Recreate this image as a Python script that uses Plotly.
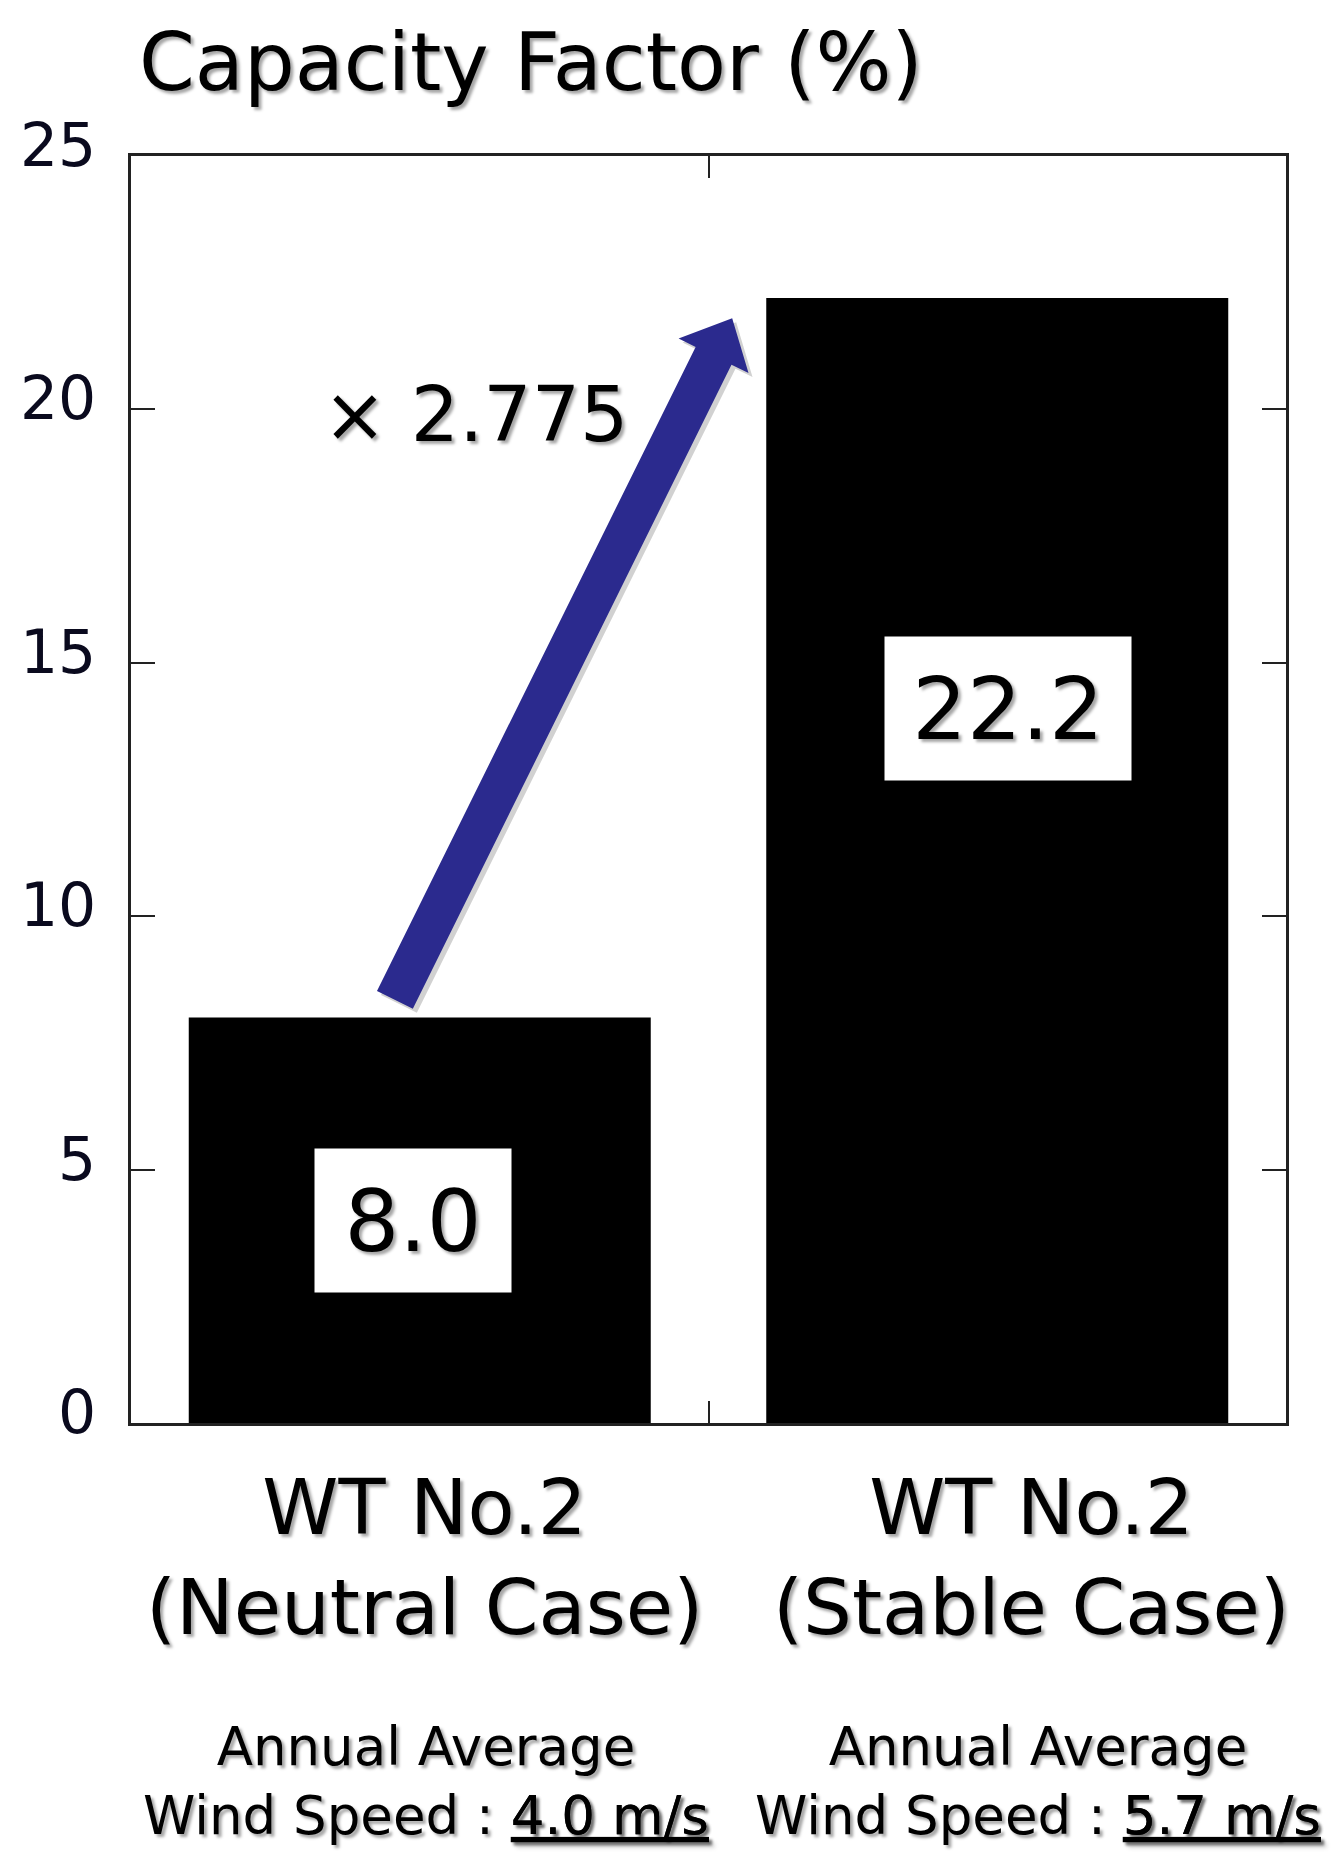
import math
import plotly.graph_objects as go

# ---- data ----
categories = ["WT No.2<br>(Neutral Case)", "WT No.2<br>(Stable Case)"]
capacity_factor = [8.0, 22.2]
wind_speed = [4.0, 5.7]
ratio_label = "× 2.775"
y_ticks = [0, 5, 10, 15, 20, 25]
title_text = "Capacity Factor (%)"

FONT = "DejaVu Sans, Verdana, sans-serif"
SHADOW = "3px 3px 3px rgba(0,0,0,0.35)"
AX = "#222222"
ARROW = "#2b2a8e"

x_idx = list(range(len(categories)))
X_RANGE = [-0.5, 1.5]
Y_RANGE = [0, 25]

# page layout (page pixel coords; the page body adds an 8px offset)
OFF = 8
W, H = 1328, 1856
PL, PR, PT, PB = 131, 1286, 156, 1423   # plot area in page pixels
L, T = PL - OFF, PT - OFF
R = OFF + W - PR
B = OFF + H - PB
plot_w, plot_h = PR - PL, PB - PT

def paper_y(px):
    return (PB - px) / plot_h

def d2p(x, y):
    px = PL + (x - X_RANGE[0]) / (X_RANGE[1] - X_RANGE[0]) * plot_w
    py = PB - (y - Y_RANGE[0]) / (Y_RANGE[1] - Y_RANGE[0]) * plot_h
    return px, py

def p2d(px, py):
    x = X_RANGE[0] + (px - PL) / plot_w * (X_RANGE[1] - X_RANGE[0])
    y = Y_RANGE[0] + (PB - py) / plot_h * (Y_RANGE[1] - Y_RANGE[0])
    return x, y

fig = go.Figure(
    go.Bar(
        x=x_idx,
        y=capacity_factor,
        width=0.8,
        marker=dict(color="black", line=dict(width=0)),
        hoverinfo="skip",
    )
)

annotations = []

# title
annotations.append(dict(
    text=title_text, xref="paper", yref="paper", x=0, y=paper_y(62),
    xanchor="left", yanchor="middle", xshift=6, showarrow=False,
    font=dict(family=FONT, size=80, color="black", shadow=SHADOW),
))

# value boxes
box_y = [capacity_factor[0] * 0.5, 14.1]
box_w = [186, 236]
box_dx = [-7, 11]
for i, v in enumerate(capacity_factor):
    annotations.append(dict(
        text=f"{v:.1f}", xref="x", yref="y", x=x_idx[i], y=box_y[i],
        xshift=box_dx[i], showarrow=False, bgcolor="white", borderpad=5,
        width=box_w[i], height=133, align="center", valign="middle",
        font=dict(family=FONT, size=86, color="black", shadow=SHADOW),
    ))

# arrow from first bar to second bar (polygon built in pixel space)
tail = d2p(-0.043, capacity_factor[0] + 0.35)
tip = d2p(0.541, capacity_factor[1] - 0.4)
dx, dy = tip[0] - tail[0], tip[1] - tail[1]
ln = math.hypot(dx, dy)
ux, uy = dx / ln, dy / ln
nx, ny = -uy, ux
shaft_hw, head_hw, head_len = 20, 39, 42
hb = (tip[0] - ux * head_len, tip[1] - uy * head_len)
pts_px = [
    (tail[0] + nx * shaft_hw, tail[1] + ny * shaft_hw),
    (hb[0] + nx * shaft_hw, hb[1] + ny * shaft_hw),
    (hb[0] + nx * head_hw, hb[1] + ny * head_hw),
    tip,
    (hb[0] - nx * head_hw, hb[1] - ny * head_hw),
    (hb[0] - nx * shaft_hw, hb[1] - ny * shaft_hw),
    (tail[0] - nx * shaft_hw, tail[1] - ny * shaft_hw),
]
pts = [p2d(*p) for p in pts_px]
path = "M " + " L ".join(f"{x:.5f},{y:.5f}" for x, y in pts) + " Z"
shadow_pts = [p2d(p[0] + 4, p[1] + 4) for p in pts_px]
shadow_path = "M " + " L ".join(f"{x:.5f},{y:.5f}" for x, y in shadow_pts) + " Z"

shapes = [
    dict(type="path", xref="x", yref="y", path=shadow_path,
         fillcolor="rgba(0,0,0,0.18)", line=dict(width=0), layer="above"),
    dict(type="path", xref="x", yref="y", path=path,
         fillcolor=ARROW, line=dict(width=0), layer="above"),
]

# ratio label
annotations.append(dict(
    text=ratio_label, xref="x", yref="y", x=0.096, y=19.9,
    showarrow=False, xanchor="center", yanchor="middle",
    font=dict(family=FONT, size=76, color="black", shadow=SHADOW),
))

# category labels and wind speed notes
cat_dx = [5, 34]
note_dx = [6, 41]
for i, c in enumerate(categories):
    annotations.append(dict(
        text=c, xref="x", yref="paper", x=x_idx[i], y=paper_y(1558),
        xshift=cat_dx[i], showarrow=False, xanchor="center", yanchor="middle",
        align="center",
        font=dict(family=FONT, size=77, color="black", shadow=SHADOW),
    ))
    annotations.append(dict(
        text=f"Annual Average<br>Wind Speed : <u>{wind_speed[i]:.1f} m/s</u>",
        xref="x", yref="paper", x=x_idx[i], y=paper_y(1781),
        xshift=note_dx[i], showarrow=False, xanchor="center", yanchor="middle",
        align="center",
        font=dict(family=FONT, size=53, color="black", shadow=SHADOW),
    ))

fig.update_layout(
    width=W, height=H,
    margin=dict(l=L, r=R, t=T, b=B, pad=0),
    paper_bgcolor="white", plot_bgcolor="white",
    showlegend=False,
    annotations=annotations,
    shapes=shapes,
    xaxis=dict(
        type="linear", range=X_RANGE, tickvals=[0.5], showticklabels=False,
        ticks="inside", ticklen=22, tickwidth=2, tickcolor=AX,
        showline=True, linewidth=2.5, linecolor=AX, mirror="ticks",
        showgrid=False, zeroline=False, fixedrange=True,
    ),
    yaxis=dict(
        range=Y_RANGE, tickvals=y_ticks, ticktext=[str(t) for t in y_ticks],
        ticks="inside", ticklen=24, tickwidth=2, tickcolor=AX,
        showline=True, linewidth=2.5, linecolor=AX, mirror="ticks",
        showgrid=False, zeroline=False, fixedrange=True,
        tickfont=dict(family=FONT, size=60, color="#0a0a1e"),
        ticklabelstandoff=20, ticklabelshift=-11,
    ),
)

fig.write_html("out.html")
